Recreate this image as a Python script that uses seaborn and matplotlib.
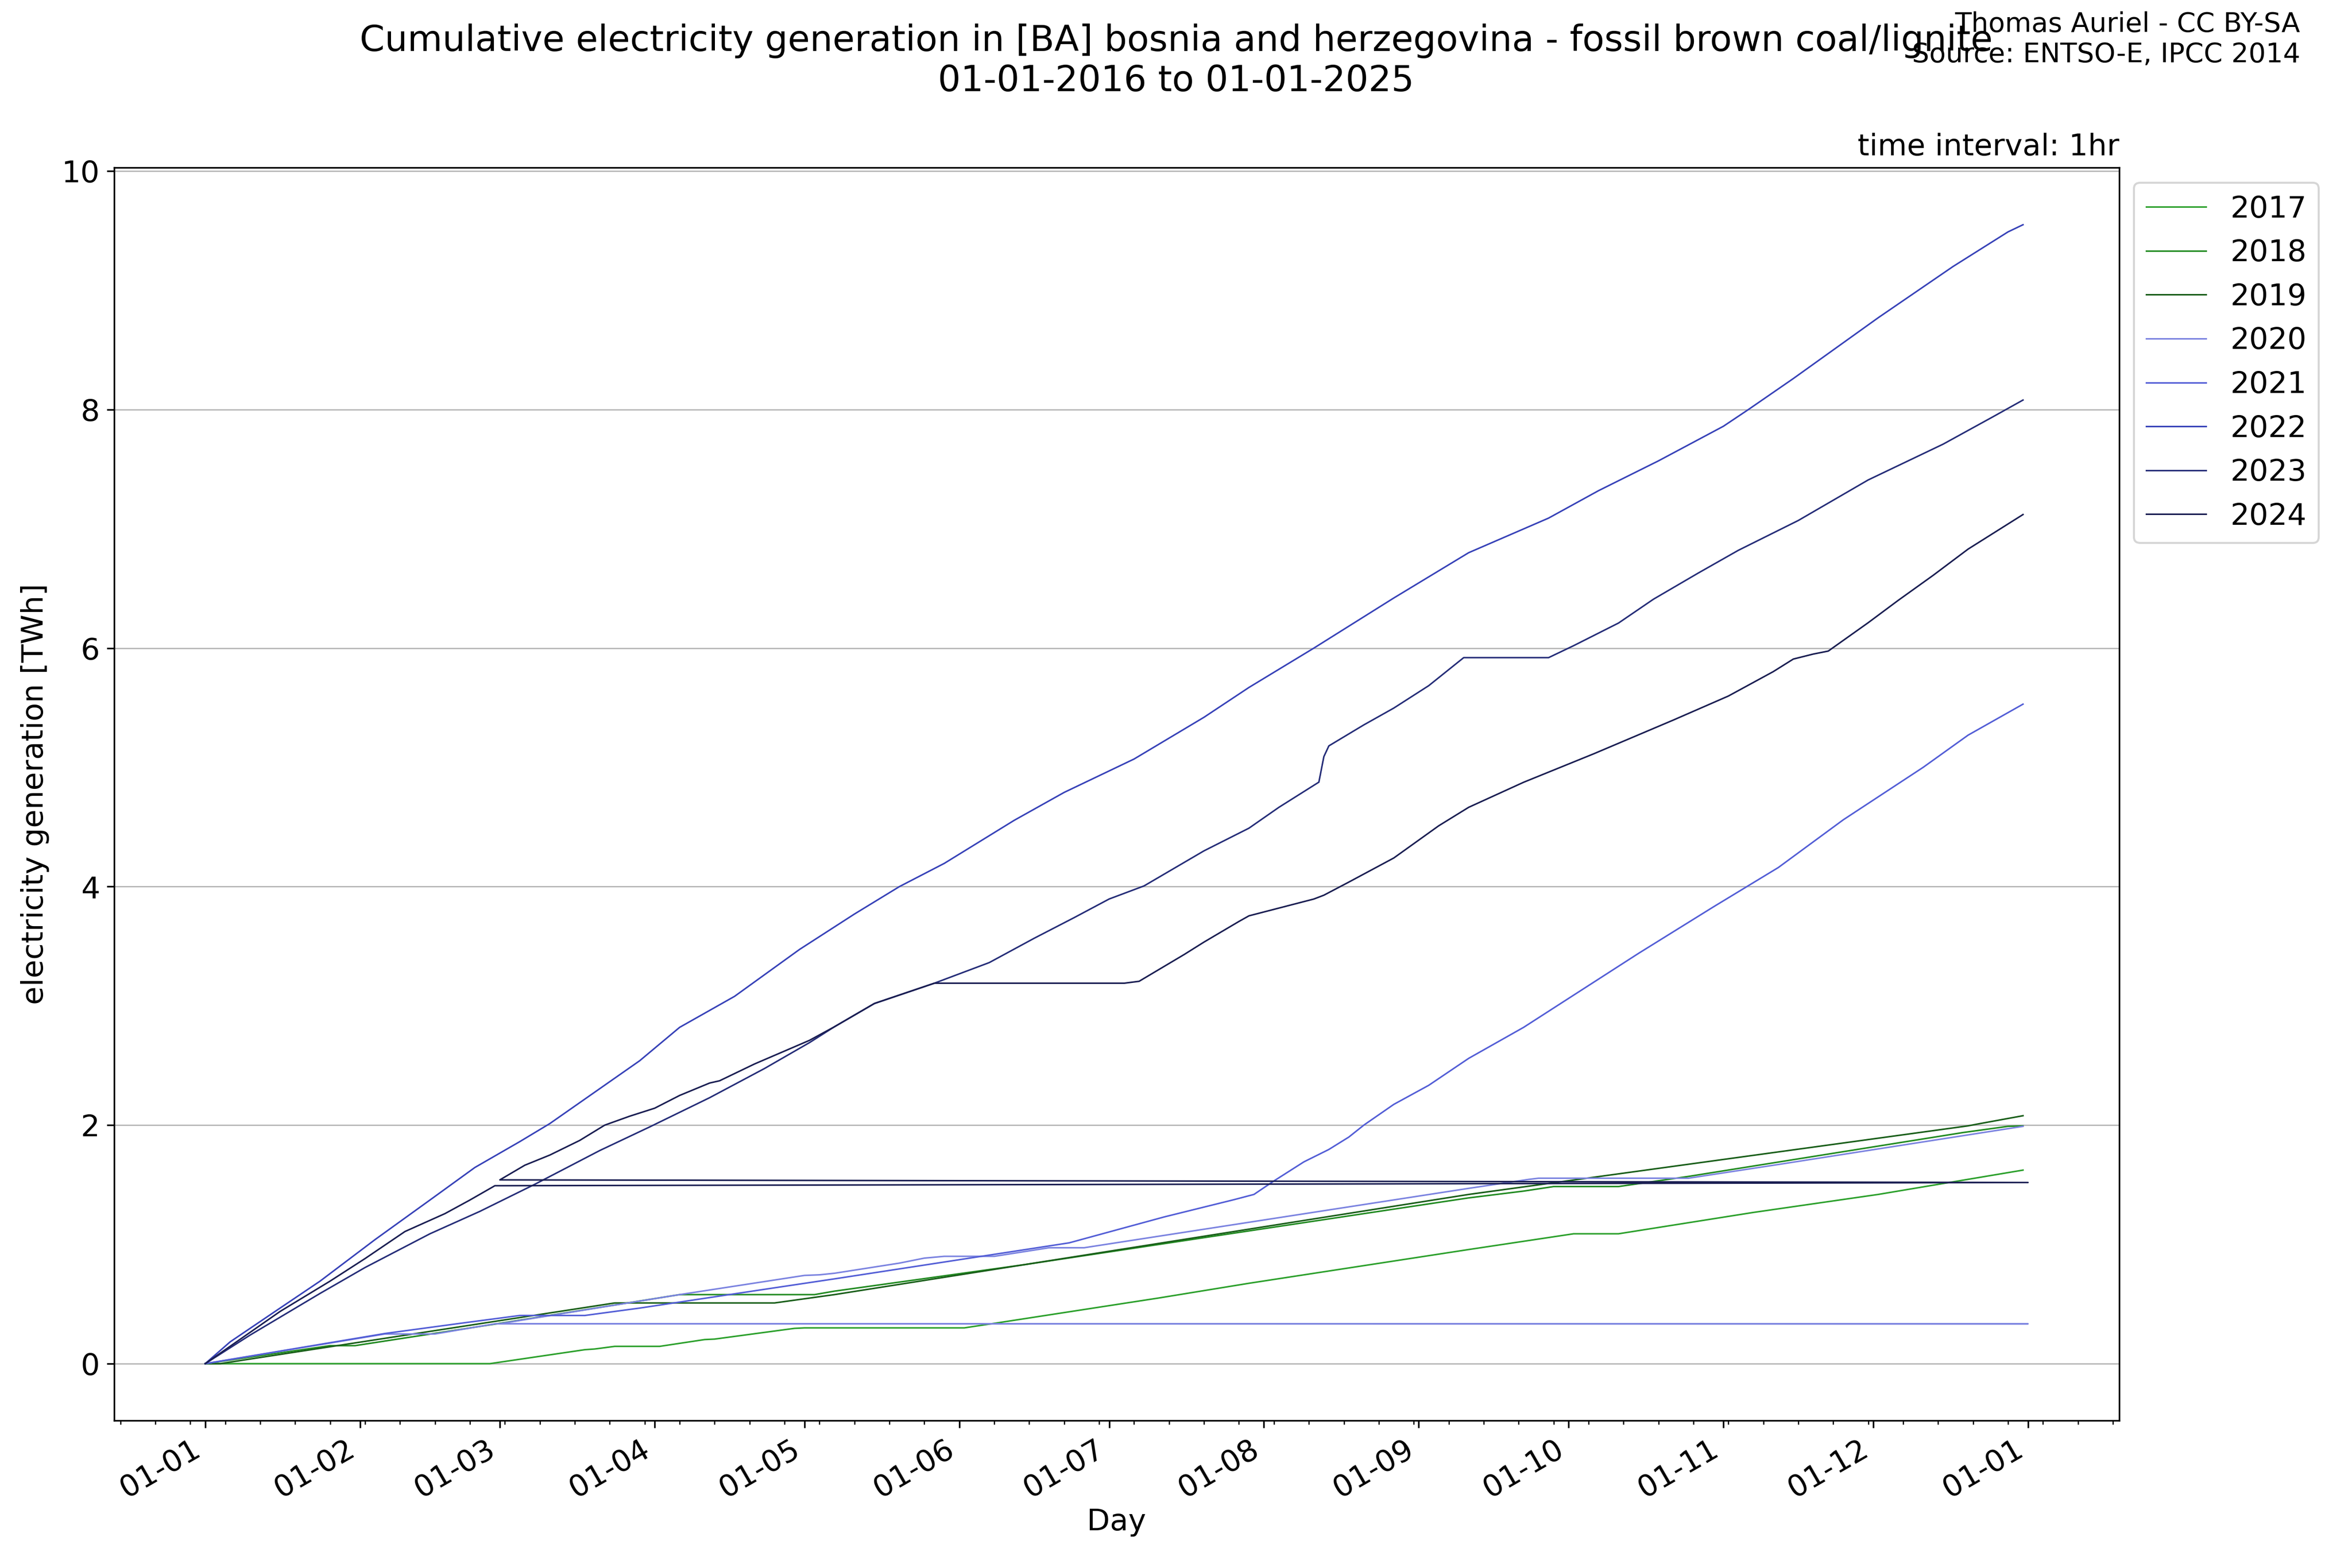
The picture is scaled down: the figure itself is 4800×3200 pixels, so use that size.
import pandas as pd
import seaborn as sns
import matplotlib.pyplot as plt
import matplotlib.dates as mdates

plt.rcParams["font.size"] = 14.7

years = ["2017", "2018", "2019", "2020", "2021", "2022", "2023", "2024"]
colors = ["#2ca02c", "#228b22", "#195e19", "#7b83e0",
          "#535ed6", "#3742b8", "#252d78", "#1a1e52"]

# cumulative generation [TWh], read at selected days (MM-DD)
dates_2017 = ["01-01", "02-27", "03-18", "03-20", "03-24", "04-02", "04-11", "04-13",
              "04-29", "05-01", "06-02", "06-08", "07-11", "07-29", "09-11", "10-02",
              "10-11", "11-07", "12-02", "12-31"]
gen_2017 = [0, 0, 0.117, 0.123, 0.145, 0.145, 0.202, 0.206,
            0.296, 0.30, 0.30, 0.338, 0.551, 0.674, 0.957, 1.089,
            1.089, 1.268, 1.419, 1.623]

dates_2018 = ["01-01", "01-26", "01-31", "03-01", "04-06", "05-03", "05-07", "06-14",
              "09-11", "09-22", "09-28", "10-11", "10-25", "12-19", "12-28", "12-31"]
gen_2018 = [0, 0.151, 0.151, 0.338, 0.579, 0.579, 0.608, 0.83,
            1.39, 1.447, 1.485, 1.485, 1.57, 1.938, 1.99, 1.994]

dates_2019 = ["01-01", "01-04", "03-24", "04-25", "05-07", "06-14", "09-11", "12-20",
              "12-22", "12-31"]
gen_2019 = [0, 0, 0.509, 0.509, 0.579, 0.83, 1.419, 1.994,
            2.01, 2.079]

dates_2020 = ["01-01", "02-06", "02-16", "02-28", "02-29", "03-01", "04-06", "05-01",
              "05-04", "05-07", "05-20", "05-25", "05-29", "06-08", "06-19", "06-26",
              "09-11", "09-23", "09-25", "10-25", "11-12", "12-31"]
gen_2020 = [0, 0.249, 0.249, 0.334, 0.334, 0.335, 0.579, 0.74,
            0.745, 0.758, 0.843, 0.885, 0.9, 0.9, 0.972, 0.972,
            1.47, 1.545, 1.555, 1.555, 1.67, 1.99]

dates_2021 = ["01-01", "02-06", "02-23", "03-05", "03-18", "03-29", "04-25", "05-07",
              "06-23", "07-12", "07-26", "07-30", "08-03", "08-09", "08-14", "08-18",
              "08-21", "08-27", "09-03", "09-11", "09-22", "10-15", "10-30", "11-12",
              "11-25", "12-11", "12-20", "12-31"]
gen_2021 = [0, 0.253, 0.349, 0.404, 0.404, 0.466, 0.636, 0.711,
            1.013, 1.23, 1.375, 1.419, 1.532, 1.692, 1.796, 1.9,
            2.0, 2.174, 2.334, 2.56, 2.82, 3.44, 3.83, 4.16,
            4.56, 5.0, 5.27, 5.53]

dates_2022 = ["01-01", "01-06", "01-15", "01-24", "02-04", "02-15", "02-24", "03-05",
              "03-11", "03-29", "04-06", "04-17", "04-30", "05-11", "05-20", "05-29",
              "06-12", "06-22", "07-06", "07-20", "07-29", "08-11", "08-27", "09-11",
              "09-27", "10-07", "10-19", "11-01", "11-06", "11-15", "12-02", "12-17",
              "12-28", "12-31"]
gen_2022 = [0, 0.183, 0.438, 0.692, 1.04, 1.372, 1.645, 1.862,
            2.013, 2.54, 2.82, 3.08, 3.473, 3.77, 4.0, 4.195,
            4.556, 4.79, 5.07, 5.42, 5.67, 6.0, 6.42, 6.80,
            7.09, 7.32, 7.57, 7.86, 8.0, 8.26, 8.77, 9.2,
            9.49, 9.55]

dates_2023 = ["01-01", "01-10", "01-24", "02-02", "02-15", "02-25", "03-08", "03-21",
              "03-31", "04-12", "04-23", "05-02", "05-07", "05-15", "05-27", "06-07",
              "06-16", "06-24", "07-01", "07-08", "07-20", "07-29", "08-04", "08-12",
              "08-13", "08-14", "08-21", "08-27", "09-03", "09-10", "09-27", "10-02",
              "10-11", "10-18", "10-27", "11-04", "11-16", "11-30", "12-07", "12-15",
              "12-25", "12-31"]
gen_2023 = [0, 0.24, 0.589, 0.806, 1.089, 1.277, 1.504, 1.787,
            1.985, 2.23, 2.475, 2.692, 2.825, 3.02, 3.19, 3.363,
            3.567, 3.74, 3.896, 4.006, 4.30, 4.49, 4.665, 4.876,
            5.09, 5.18, 5.356, 5.497, 5.685, 5.92, 5.92, 6.02,
            6.21, 6.41, 6.63, 6.82, 7.07, 7.41, 7.55, 7.71,
            7.94, 8.08]

dates_2024 = ["01-01", "01-16", "01-26", "02-02", "02-10", "02-18", "02-23", "02-28",
              "02-29", "03-01", "03-06", "03-11", "03-17", "03-22", "03-27", "04-01",
              "04-06", "04-12", "04-14", "04-21", "05-02", "05-07", "05-15", "05-27",
              "07-04", "07-07", "07-16", "07-20", "07-27", "07-29", "08-11", "08-13",
              "08-18", "08-27", "09-05", "09-11", "09-22", "10-06", "10-22", "11-02",
              "11-11", "11-15", "11-19", "11-22", "11-30", "12-06", "12-13", "12-20",
              "12-31"]
gen_2024 = [0, 0.438, 0.692, 0.881, 1.108, 1.258, 1.372, 1.492,
            1.519, 1.541, 1.664, 1.749, 1.872, 2.0, 2.075, 2.142,
            2.249, 2.353, 2.372, 2.513, 2.711, 2.825, 3.02, 3.19,
            3.19, 3.206, 3.43, 3.535, 3.708, 3.755, 3.896, 3.928,
            4.038, 4.24, 4.51, 4.665, 4.875, 5.113, 5.397, 5.598,
            5.803, 5.908, 5.95, 5.975, 6.213, 6.40, 6.61, 6.83,
            7.12]

all_dates = [dates_2017, dates_2018, dates_2019, dates_2020,
             dates_2021, dates_2022, dates_2023, dates_2024]
all_gen = [gen_2017, gen_2018, gen_2019, gen_2020,
           gen_2021, gen_2022, gen_2023, gen_2024]


def to_day(md):
    # every year is put on one common (non leap) year, 29 Feb lands on next new year
    if md == "02-29":
        return pd.Timestamp("2022-01-01")
    return pd.Timestamp("2021-" + md)


frames = []
for y, d, g in zip(years, all_dates, all_gen):
    frames.append(pd.DataFrame({"Day": [to_day(md) for md in d], "TWh": g, "year": y}))
df = pd.concat(frames, ignore_index=True)

fig, ax = plt.subplots(figsize=(16, 32 / 3), dpi=300)
fig.subplots_adjust(left=0.0485, right=0.901, top=0.893, bottom=0.094)

sns.lineplot(data=df, x="Day", y="TWh", hue="year", palette=dict(zip(years, colors)),
             sort=False, estimator=None, linewidth=0.75, ax=ax)

ax.grid(axis="y", color="#b0b0b0", linewidth=0.6)
ax.xaxis.set_major_locator(mdates.MonthLocator())
ax.xaxis.set_major_formatter(mdates.DateFormatter("%d-%m"))
ax.xaxis.set_minor_locator(mdates.WeekdayLocator(byweekday=mdates.TU))
plt.setp(ax.get_xticklabels(), rotation=30, ha="right")

ax.set_xlabel("Day", labelpad=2)
ax.set_ylabel("electricity generation [TWh]", labelpad=6)
ax.set_title("time interval: 1hr", loc="right", fontsize=14.7)
fig.suptitle("Cumulative electricity generation in [BA] bosnia and herzegovina - fossil brown coal/lignite\n"
             "01-01-2016 to 01-01-2025", fontsize=17.6, y=0.985)
fig.text(0.978, 0.993, "Thomas Auriel - CC BY-SA\nSource: ENTSO-E, IPCC 2014",
         ha="right", va="top", fontsize=13.3)

ax.legend(bbox_to_anchor=(1, 1), loc="upper left")

plt.savefig("out.png", dpi=300)
